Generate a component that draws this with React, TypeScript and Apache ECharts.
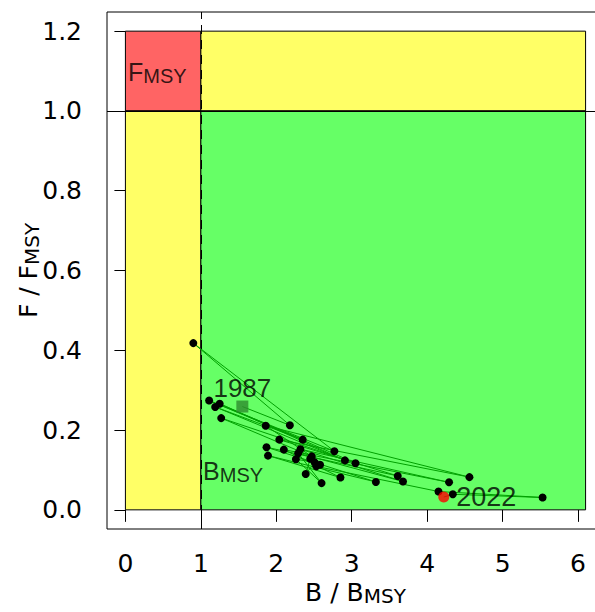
import React, { useEffect, useRef } from "react";
import * as echarts from "echarts";

const years = [
  1987, 1988, 1989, 1990, 1991, 1992, 1993, 1994, 1995, 1996, 1997, 1998,
  1999, 2000, 2001, 2002, 2003, 2004, 2005, 2006, 2007, 2008, 2009, 2010,
  2011, 2012, 2013, 2014, 2015, 2016, 2017, 2018, 2019, 2020, 2021, 2022,
];
const bRatio = [
  1.55, 2.18, 0.9, 2.77, 1.11, 2.35, 1.19, 2.91, 1.25, 3.05, 1.27, 2.47,
  1.86, 4.56, 2.04, 3.61, 1.87, 3.32, 1.89, 2.85, 2.1, 4.29, 2.32, 3.68,
  2.29, 2.6, 2.26, 2.51, 2.39, 2.45, 2.58, 2.53, 4.15, 5.53, 4.34, 4.22,
];
const fRatio = [
  0.259, 0.212, 0.418, 0.147, 0.274, 0.176, 0.258, 0.124, 0.266, 0.117, 0.23,
  0.134, 0.211, 0.082, 0.176, 0.085, 0.157, 0.07, 0.136, 0.081, 0.151, 0.069,
  0.152, 0.071, 0.142, 0.067, 0.127, 0.119, 0.09, 0.128, 0.113, 0.109, 0.046,
  0.031, 0.039, 0.032,
];
const xTicks = [0, 1, 2, 3, 4, 5, 6];
const yTicks = [0, 0.2, 0.4, 0.6, 0.8, 1.0, 1.2];
const bMsy = 1;
const fMsy = 1;
const zoneXMax = 6.1;
const zoneYMax = 1.2;
const xRange = [-0.244, 6.344];
const yRange = [-0.048, 1.248];
const annotations = [
  { name: "F", sub: "MSY", value: [0.034, 1.096] },
  { name: "B", sub: "MSY", value: [1.03, 0.095] },
];

const RED = "#FF6464";
const YELLOW = "#FFFF66";
const GREEN = "#66FF66";
const FONT = "Liberation Sans, Arial, sans-serif";
const AXFONT = "DejaVu Sans, sans-serif";

const richSub = {
  b: { fontSize: 25, lineHeight: 26, verticalAlign: "top", color: "#000", fontFamily: FONT },
  s: { fontSize: 20, lineHeight: 20, padding: [12, 0, 0, 0], verticalAlign: "bottom", color: "#000", fontFamily: FONT },
};
const richAxis = {
  b: { fontSize: 25, lineHeight: 26, verticalAlign: "top", color: "#000", fontFamily: AXFONT },
  s: { fontSize: 20, lineHeight: 20, padding: [10, 0, 0, 0], verticalAlign: "bottom", color: "#000", fontFamily: AXFONT },
};

export default function App() {
  const ref = useRef<HTMLDivElement>(null);
  useEffect(() => {
    if (!ref.current) return;
    const chart = echarts.init(ref.current, undefined, { renderer: "svg" });
    const n = bRatio.length;
    const traj = bRatio.map((b, i) => {
      const item: any = { value: [b, fRatio[i]], name: String(years[i]) };
      if (i === 0 || i === n - 1) item.symbol = "none";
      return item;
    });
    chart.setOption({
      animation: false,
      grid: {
        left: 107, top: 12, width: 497, height: 517,
        outerBoundsMode: "none", containLabel: false,
        show: true, borderColor: "#000", borderWidth: 1, backgroundColor: "transparent",
      },
      xAxis: {
        type: "value",
        min: xRange[0],
        max: xRange[1],
        splitLine: { show: false },
        axisLine: { show: false },
        axisTick: { show: true, customValues: xTicks, length: 12, lineStyle: { color: "#000", width: 1 } },
        axisLabel: { customValues: xTicks, fontSize: 25, color: "#000", fontFamily: AXFONT, margin: 22, formatter: (v: number) => String(v) },
        name: "{b|B / B}{s|MSY}",
        nameLocation: "middle",
        nameGap: 51,
        nameMoveOverlap: false,
        nameTextStyle: { rich: richAxis },
      },
      yAxis: {
        type: "value",
        min: yRange[0],
        max: yRange[1],
        splitLine: { show: false },
        axisLine: { show: false },
        axisTick: { show: true, customValues: yTicks, length: 11, lineStyle: { color: "#000", width: 1 } },
        axisLabel: { customValues: yTicks, fontSize: 25, color: "#000", fontFamily: AXFONT, margin: 25, formatter: (v: number) => v.toFixed(1) },
        name: "{b|F / F}{s|MSY}",
        nameLocation: "middle",
        nameRotate: 90,
        nameGap: 65,
        nameMoveOverlap: false,
        nameTextStyle: { rich: richAxis },
      },
      series: [
        {
          type: "line",
          z: 1,
          data: [],
          silent: true,
          markArea: {
            silent: true,
            itemStyle: { borderColor: "#000", borderWidth: 1, opacity: 1 },
            label: { show: false },
            data: [
              [{ xAxis: 0, yAxis: fMsy, itemStyle: { color: RED } }, { xAxis: bMsy, yAxis: zoneYMax }],
              [{ xAxis: bMsy, yAxis: fMsy, itemStyle: { color: YELLOW } }, { xAxis: zoneXMax, yAxis: zoneYMax }],
              [{ xAxis: 0, yAxis: 0, itemStyle: { color: YELLOW } }, { xAxis: bMsy, yAxis: fMsy }],
              [{ xAxis: bMsy, yAxis: 0, itemStyle: { color: GREEN } }, { xAxis: zoneXMax, yAxis: fMsy }],
            ],
          },
          markLine: {
            silent: true,
            symbol: "none",
            label: { show: false },
            data: [
              { xAxis: bMsy, lineStyle: { color: "#000", width: 1, type: [9, 6] } },
              { yAxis: fMsy, lineStyle: { color: "#000", width: 1, type: "solid" } },
            ],
          },
        },
        {
          type: "line",
          z: 3,
          data: traj,
          symbol: "circle",
          symbolSize: 8,
          showAllSymbol: true,
          lineStyle: { color: "#00A000", width: 1 },
          itemStyle: { color: "#000" },
          silent: true,
        },
        {
          type: "scatter",
          z: 4,
          symbol: "rect",
          symbolSize: 12,
          data: [[bRatio[0], fRatio[0]]],
          itemStyle: { color: "#2E8B2E" },
          label: { show: true, position: "top", distance: 0, formatter: String(years[0]), fontSize: 26, color: "#000", fontFamily: FONT },
        },
        {
          type: "scatter",
          z: 4,
          symbol: "circle",
          symbolSize: 11,
          data: [[bRatio[n - 1], fRatio[n - 1]]],
          itemStyle: { color: "#FF0000" },
          label: { show: true, position: "right", distance: 7, formatter: String(years[n - 1]), fontSize: 27, color: "#000", fontFamily: FONT },
        },
        {
          type: "scatter",
          z: 4,
          symbolSize: 0,
          data: annotations.map((a) => ({ value: a.value, name: a.name, sub: a.sub })),
          label: {
            show: true,
            position: "right",
            distance: 0,
            formatter: (p: any) => `{b|${p.data.name}}{s|${p.data.sub}}`,
            rich: richSub,
          },
        },
      ],
    });
    return () => chart.dispose();
  }, []);
  return <div ref={ref} style={{ position: "absolute", left: 0, top: 0, width: 595, height: 612 }} />;
}
